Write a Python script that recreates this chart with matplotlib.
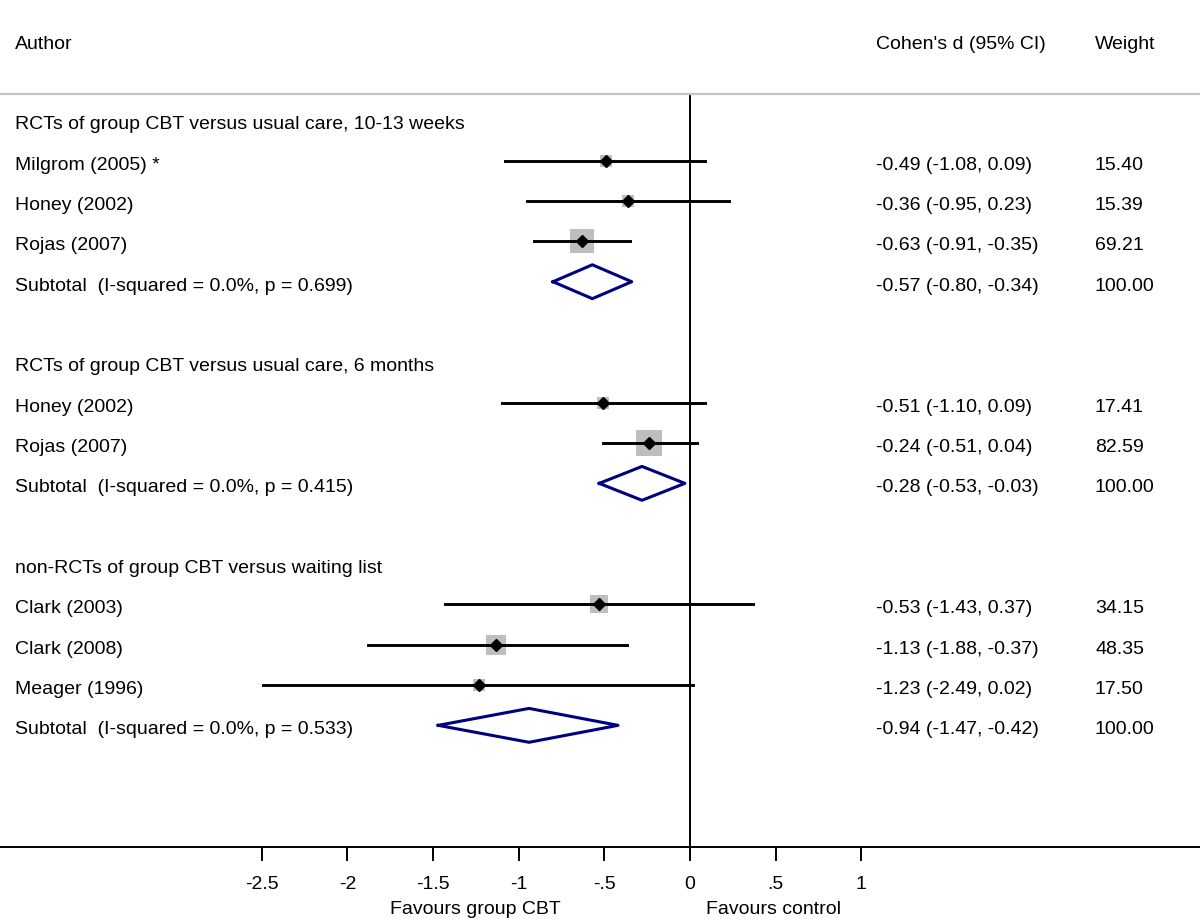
#!/usr/bin/env python3
"""
Forest plot: group CBT vs control (Cohen's d)
"""

import matplotlib
matplotlib.use('Agg')
import matplotlib.pyplot as plt

plt.rcParams['font.family'] = ['Liberation Sans', 'DejaVu Sans']

# 数据
group_titles = ['RCTs of group CBT versus usual care, 10-13 weeks',
                'RCTs of group CBT versus usual care, 6 months',
                'non-RCTs of group CBT versus waiting list']
group_ids = [0, 0, 0, 1, 1, 2, 2, 2]
authors = ['Milgrom (2005) *', 'Honey (2002)', 'Rojas (2007)',
           'Honey (2002)', 'Rojas (2007)',
           'Clark (2003)', 'Clark (2008)', 'Meager (1996)']
d_vals = [-0.49, -0.36, -0.63, -0.51, -0.24, -0.53, -1.13, -1.23]
ci_low = [-1.08, -0.95, -0.91, -1.10, -0.51, -1.43, -1.88, -2.49]
ci_high = [0.09, 0.23, -0.35, 0.09, 0.04, 0.37, -0.37, 0.02]
weights = [15.40, 15.39, 69.21, 17.41, 82.59, 34.15, 48.35, 17.50]

sub_labels = ['Subtotal  (I-squared = 0.0%, p = 0.699)',
              'Subtotal  (I-squared = 0.0%, p = 0.415)',
              'Subtotal  (I-squared = 0.0%, p = 0.533)']
sub_d = [-0.57, -0.28, -0.94]
sub_low = [-0.80, -0.53, -1.47]
sub_high = [-0.34, -0.03, -0.42]

xticks = [-2.5, -2, -1.5, -1, -0.5, 0, 0.5, 1]
xtick_labels = ['-2.5', '-2', '-1.5', '-1', '-.5', '0', '.5', '1']

FS = 14
PX = 171.3          # 每单位像素
ROW = 40.33         # 行高像素
Y0 = 121.4          # 第一行像素位置
X_TEXT = (15 - 690) / PX
X_CI = (876 - 690) / PX
X_W = (1095 - 690) / PX
OFF = 8.0 / ROW     # 文本基线偏移


def fmt(v):
    return f'{v:.2f}'


def put(x, y, s, off=OFF):
    ax.text(x, y + off, s, fontsize=FS, va='baseline', ha='left')


fig = plt.figure(figsize=(12, 9.2), dpi=100)
ax = fig.add_axes([0, 72 / 920, 1, (848 - 95) / 920])
ax.set_xlim(-690 / PX, 510 / PX)
y_top = -(Y0 - 95) / ROW
y_bot = (848 - Y0) / ROW
ax.set_ylim(y_bot, y_top)

# 坐标轴样式
for s in ['left', 'right']:
    ax.spines[s].set_visible(False)
ax.spines['top'].set_color('#c4c4c4')
ax.spines['top'].set_linewidth(1.6)
ax.spines['bottom'].set_linewidth(1.4)
ax.set_yticks([])
ax.set_xticks(xticks)
ax.set_xticklabels(xtick_labels, fontsize=FS)
ax.tick_params(axis='x', length=10, width=1.4, pad=10)

# 零线
ax.plot([0, 0], [y_top, y_bot], color='black', lw=1.4, zorder=1)

# 表头
y_head = (49 - Y0) / ROW
put(X_TEXT, y_head, 'Author', off=0)
put(X_CI, y_head, "Cohen's d (95% CI)", off=0)
put(X_W, y_head, 'Weight', off=0)

row = 0
for g, title in enumerate(group_titles):
    put(X_TEXT, row, title)
    row += 1
    for i in range(len(authors)):
        if group_ids[i] != g:
            continue
        ax.scatter(d_vals[i], row, marker='s', s=4.4 * weights[i],
                   color='#bebebe', zorder=2, linewidths=0)
        ax.plot([ci_low[i], ci_high[i]], [row, row], color='black', lw=2.1, zorder=3)
        ax.plot(d_vals[i], row, marker='D', color='black', ms=6.5, zorder=4)
        put(X_TEXT, row, authors[i])
        put(X_CI, row, f'{fmt(d_vals[i])} ({fmt(ci_low[i])}, {fmt(ci_high[i])})')
        put(X_W, row, fmt(weights[i]))
        row += 1
    # 合并效应菱形
    h = 0.42
    ax.plot([sub_low[g], sub_d[g], sub_high[g], sub_d[g], sub_low[g]],
            [row, row - h, row, row + h, row], color='#000080', lw=2.2, zorder=3)
    put(X_TEXT, row, sub_labels[g])
    put(X_CI, row, f'{fmt(sub_d[g])} ({fmt(sub_low[g])}, {fmt(sub_high[g])})')
    put(X_W, row, '100.00')
    row += 2

# 底部说明
y_fav = (914 - Y0) / ROW
ax.text(-1.255, y_fav, 'Favours group CBT', fontsize=FS, va='baseline', ha='center')
ax.text(0.485, y_fav, 'Favours control', fontsize=FS, va='baseline', ha='center')

fig.savefig('out.png', dpi=100)
plt.close(fig)
